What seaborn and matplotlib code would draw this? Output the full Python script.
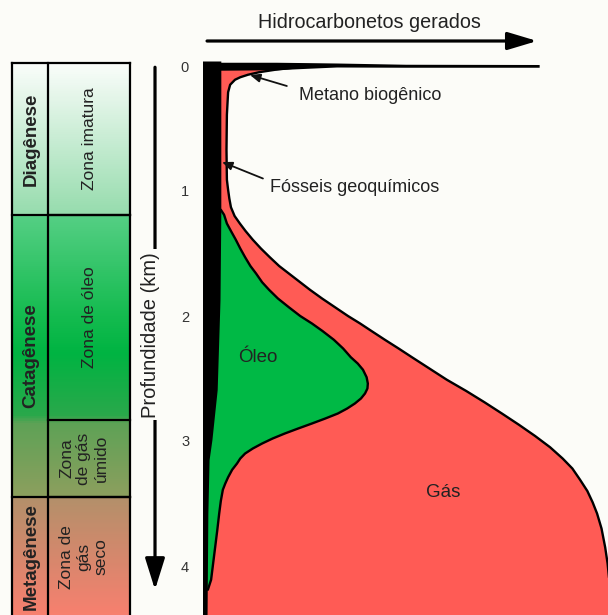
import numpy as np
import matplotlib
matplotlib.use('Agg')
import matplotlib.pyplot as plt
import seaborn as sns
from matplotlib.colors import LinearSegmentedColormap

# ---------------- data ----------------
depth_ticks = [0, 1, 2, 3, 4]

# outer boundary of generated gas (depth km, relative amount)
gas_depth = [0.00, 0.03, 0.05, 0.07, 0.09, 0.11, 0.15, 0.21, 0.39, 0.67, 0.91,
             0.99, 1.06, 1.13, 1.20, 1.26, 1.32, 1.39, 1.46, 1.53, 1.60, 1.66,
             1.72, 1.79, 1.86, 1.93, 2.00, 2.06, 2.12, 2.19, 2.26, 2.33, 2.42,
             2.51, 2.60, 2.69, 2.78, 2.87, 2.96, 3.05, 3.14, 3.22, 3.31, 3.40,
             3.49, 3.58, 3.70, 3.85, 3.98, 4.11, 4.40]
gas_amount = [26.0, 17.8, 13.8, 11.1, 9.2, 7.9, 6.7, 6.2, 5.9, 5.8, 5.9,
              6.2, 6.5, 6.9, 7.8, 9.1, 10.5, 12.3, 14.3, 16.5, 18.8, 21.2,
              23.6, 26.4, 29.4, 32.6, 35.8, 38.8, 41.6, 44.9, 48.3, 51.6, 55.9,
              60.2, 65.0, 69.5, 73.8, 78.0, 82.0, 85.7, 88.8, 91.2, 93.1, 94.9,
              96.2, 97.3, 98.4, 99.3, 99.9, 100.3, 101.0]

# outer boundary of generated oil
oil_depth = [1.15, 1.19, 1.26, 1.32, 1.39, 1.46, 1.53, 1.60, 1.66, 1.73, 1.79,
             1.86, 1.93, 2.00, 2.06, 2.12, 2.19, 2.26, 2.33, 2.38, 2.43, 2.49,
             2.54, 2.58, 2.62, 2.66, 2.70, 2.74, 2.78, 2.82, 2.86, 2.90, 2.94,
             2.98, 3.02, 3.06, 3.10, 3.14, 3.18, 3.23, 3.29, 3.34, 3.39, 3.48,
             3.58, 3.72, 3.85, 3.98, 4.11, 4.19]
oil_amount = [4.4, 5.2, 5.9, 6.9, 8.1, 9.2, 10.4, 11.7, 13.1, 14.6, 16.3,
              18.5, 21.2, 24.0, 26.9, 29.5, 32.3, 34.6, 36.5, 38.2, 39.5, 40.4,
              40.7, 40.6, 40.0, 39.0, 37.5, 35.6, 33.3, 30.2, 26.9, 23.5, 20.2,
              17.2, 14.6, 12.3, 10.4, 9.2, 8.4, 7.2, 6.2, 5.5, 4.9, 4.4,
              4.0, 3.5, 3.0, 2.5, 2.0, 1.2]

# geochemical fossils (black wedge)
fossil_depth = [-0.04, 1.18, 1.87, 2.59, 2.99, 3.15, 3.58, 4.40]
fossil_amount = [4.4, 4.4, 4.2, 3.5, 2.2, 1.5, 1.2, 1.0]

# top bar (surface line)
bar_x = [0, 18, 26, 33, 50, 83]
bar_top = [-0.030, -0.030, -0.027, -0.024, -0.014, -0.012]
bar_bot = [0.035, 0.030, 0.018, 0.008, 0.010, 0.010]

stages = ["Diagênese", "Catagênese", "Metagênese"]
stage_bounds = [-0.024, 1.19, 3.45, 4.40]
zones = ["Zona imatura", "Zona de óleo", "Zona\nde gás\númido", "Zona de\ngás\nseco"]
zone_bounds = [-0.024, 1.19, 2.83, 3.45, 4.40]

annotations = [("Metano biogênico", (11.6, 0.072), (20.7, 0.16), (41.2, 0.24)),
               ("Fósseis geoquímicos", (4.7, 0.768), (14.8, 0.90), (37.5, 0.968))]

# ---------------- style ----------------
sns.set_theme(style='white')
plt.rcParams['font.family'] = ['Liberation Sans', 'DejaVu Sans']

BG = '#fcfcf8'
RED = '#ff5b55'
GREEN = '#00b945'
TXT = '#222222'
YMIN, YMAX = -0.528, 4.392

fig = plt.figure(figsize=(6.08, 6.15), dpi=100, facecolor=BG)
ax = fig.add_axes([203 / 608, 0, 405 / 608, 1])
ax.set_facecolor('none')

# gas area
ax.fill(gas_amount + [0, 0], gas_depth + [gas_depth[-1], gas_depth[0]],
        color=RED, lw=0, zorder=1)
# oil area
ax.fill(oil_amount + [0, 0], oil_depth + [oil_depth[-1], oil_depth[0]],
        color=GREEN, lw=0, zorder=2)
# outlines
sns.lineplot(x=gas_amount, y=gas_depth, sort=False, estimator=None,
             color='black', lw=1.7, ax=ax, zorder=3)
sns.lineplot(x=oil_amount, y=oil_depth, sort=False, estimator=None,
             color='black', lw=1.7, ax=ax, zorder=3)
# black wedge
ax.fill_betweenx(fossil_depth, -0.3, fossil_amount, color='black', lw=0, zorder=4)
# surface bar
ax.fill_between(bar_x, bar_top, bar_bot, color='black', lw=0, zorder=4)

ax.set_xlim(0, 100)
ax.set_ylim(YMAX, YMIN)
ax.set_xticks([])
ax.set_yticks(depth_ticks)
ax.set_yticklabels([str(t) for t in depth_ticks])
ax.tick_params(axis='y', length=0, pad=10, labelsize=10.5, labelcolor='#333333')
for s in ax.spines.values():
    s.set_visible(False)
ax.set_xlabel('')
ax.set_ylabel('')

# axis arrows
ax.annotate('', xy=(82.5, -0.2), xytext=(1.0, -0.2),
            arrowprops=dict(arrowstyle='-|>,head_length=1.5,head_width=0.45',
                            lw=2.3, color='black', mutation_scale=12,
                            shrinkA=0, shrinkB=0), annotation_clip=False)
ax.text(41.0, -0.345, 'Hidrocarbonetos gerados', ha='center', va='center',
        fontsize=14.2, color=TXT)
ax.annotate('', xy=(-11.85, 4.19), xytext=(-11.85, 0.01),
            arrowprops=dict(arrowstyle='-|>,head_length=1.6,head_width=0.5',
                            lw=2.3, color='black', mutation_scale=12,
                            shrinkA=0, shrinkB=0), annotation_clip=False)
ax.text(-12.9, 2.15, 'Profundidade (km)', rotation=90, ha='center', va='center',
        fontsize=14.5, color=TXT, zorder=10, clip_on=False,
        bbox=dict(facecolor=BG, edgecolor='none', pad=2))

for label, tip, tail, pos in annotations:
    ax.annotate('', xy=tip, xytext=tail,
                arrowprops=dict(arrowstyle='-|>,head_length=0.6,head_width=0.25',
                                lw=1.3, color='#111111', mutation_scale=10,
                                shrinkA=0, shrinkB=0), zorder=6)
    ax.text(pos[0], pos[1], label, ha='center', va='center', fontsize=13,
            color=TXT, zorder=6)

ax.text(13.6, 2.33, 'Óleo', ha='center', va='center', fontsize=13.5, color=TXT, zorder=6)
ax.text(59.3, 3.41, 'Gás', ha='center', va='center', fontsize=13.5, color=TXT, zorder=6)

# ---------------- left table ----------------
tab = fig.add_axes([12 / 608, 0, 118 / 608, 1])
tab.set_xlim(0, 1)
tab.set_ylim(YMAX, YMIN)
tab.axis('off')

top = stage_bounds[0]
stops = [(-0.024, '#fafdfa'), (1.185, '#96dcad'), (1.195, '#55cf84'),
         (2.0, '#14bb4f'), (2.3, '#00b442'), (2.80, '#2aa84b'), (2.86, '#5ea256'),
         (3.44, '#8c9f5e'), (3.46, '#b3906a'), (4.392, '#f7806f')]
cmap = LinearSegmentedColormap.from_list(
    'strat', [((d - top) / (YMAX - top), c) for d, c in stops])
grad = np.linspace(top, YMAX, 800)[:, None]
tab.imshow(grad, extent=(0, 1, YMAX, top), origin='upper', aspect='auto',
           cmap=cmap, vmin=top, vmax=YMAX, zorder=1)
tab.set_xlim(0, 1)
tab.set_ylim(YMAX, YMIN)

xdiv = 0.305
lk = dict(color='black', lw=1.6, clip_on=False, zorder=3, solid_capstyle='projecting')
tab.plot([0, 0], [top, YMAX + 0.05], **lk)
tab.plot([1, 1], [top, YMAX + 0.05], **lk)
tab.plot([xdiv, xdiv], [top, YMAX + 0.05], **lk)
tab.plot([0, 1], [top, top], **lk)
for b in stage_bounds[1:-1]:
    tab.plot([0, 1], [b, b], **lk)
for b in zone_bounds[1:-1]:
    tab.plot([xdiv, 1], [b, b], **lk)

for i, name in enumerate(stages):
    c = (stage_bounds[i] + stage_bounds[i + 1]) / 2
    tab.text(0.16, c, name, rotation=90, ha='center', va='center',
             fontsize=13.5, fontweight='bold', color=TXT, zorder=4)
zone_x = [0.66, 0.66, 0.61, 0.61]
for i, name in enumerate(zones):
    c = (zone_bounds[i] + zone_bounds[i + 1]) / 2
    tab.text(zone_x[i], c, name, rotation=90, ha='center', va='center',
             multialignment='center', fontsize=12.5, color=TXT, zorder=4)

fig.savefig('out.png', dpi=100, facecolor=BG)
